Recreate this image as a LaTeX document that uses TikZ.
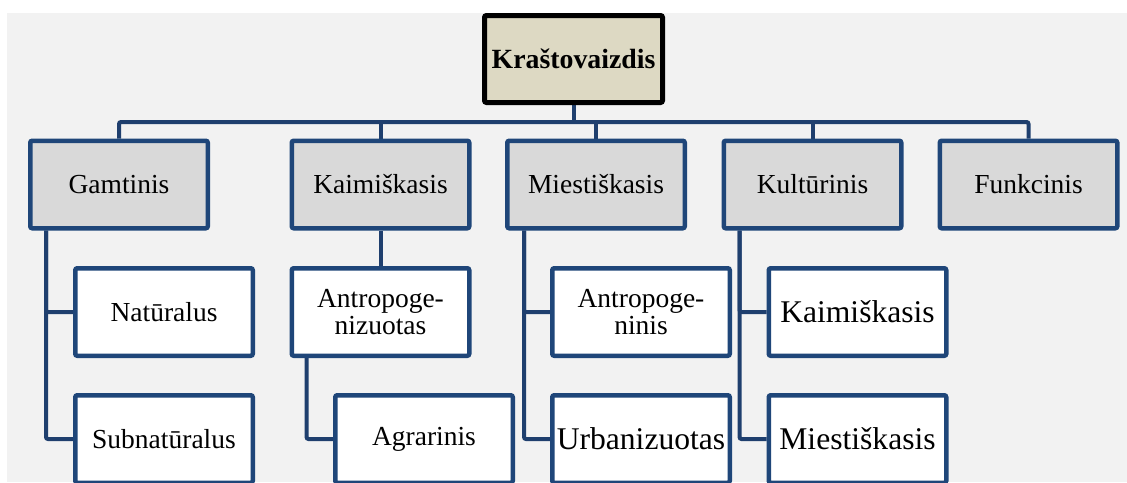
\documentclass[tikz,border=0pt]{standalone}
\usepackage{fontspec}
\setmainfont{Liberation Serif}
\usetikzlibrary{backgrounds}
\definecolor{bggray}{HTML}{F2F2F2}
\definecolor{lineblue}{HTML}{1F3F6E}
\definecolor{boxblue}{HTML}{1F4679}
\definecolor{topfill}{HTML}{DDD9C3}
\definecolor{lvlfill}{HTML}{D9D9D9}
\tikzset{
  topbox/.style={draw=black, fill=topfill, line width=2.5pt, rounded corners=1pt,
    minimum width=89pt, minimum height=43.5pt, inner sep=0pt,
    font=\fontsize{13.9}{15}\selectfont\bfseries},
  lvlbox/.style={draw=boxblue, fill=lvlfill, line width=2.25pt, rounded corners=1pt,
    minimum width=88.75pt, minimum height=43.75pt, inner sep=0pt, align=center,
    font=\fontsize{13.75}{13.3}\selectfont},
  leafbox/.style={lvlbox, fill=white},
  bigleaf/.style={leafbox, font=\fontsize{15.8}{16}\selectfont},
  conn/.style={draw=lineblue, line width=2pt, rounded corners=1pt}
}
\begin{document}
\begin{tikzpicture}[x=0.5pt,y=-0.5pt]
\useasboundingbox (0,0) rectangle (1127,482);
\clip (0,0) rectangle (1127,482);
\begin{pgfonlayer}{background}
\fill[white] (0,0) rectangle (1127,482);
\fill[bggray] (7,13) rectangle (1127,482);
\end{pgfonlayer}

\node[topbox] (top) at (573.5,59) {Kraštovaizdis};

\node[lvlbox] (gam) at (119,184.5) {Gamtinis};
\node[lvlbox] (kai) at (380.5,184.5) {Kaimiškasis};
\node[lvlbox] (mie) at (596,184.5) {Miestiškasis};
\node[lvlbox] (kul) at (812.5,184.5) {Kultūrinis};
\node[lvlbox] (fun) at (1028.5,184.5) {Funkcinis};

\node[leafbox] (nat) at (164,312) {Natūralus};
\node[leafbox] (sub) at (164,439) {Subnatūralus};
\node[leafbox] (ant) at (380.5,312) {Antropoge-\\nizuotas};
\node[leafbox] (agr) at (424,439) {Agrarinis};
\node[leafbox] (anp) at (641,312) {Antropoge-\\ninis};
\node[bigleaf] (urb) at (641,439) {Urbanizuotas};
\node[bigleaf] (kai2) at (857.5,312) {Kaimiškasis};
\node[bigleaf] (mie2) at (857.5,439) {Miestiškasis};

\coordinate (bus) at (0,122);

\begin{pgfonlayer}{background}
\draw[conn] (gam.north) |- (fun.north |- bus) -- (fun.north);
\draw[conn] (top.south) -- (top.south |- bus);
\draw[conn] (kai.north) -- (kai.north |- bus);
\draw[conn] (mie.north) -- (mie.north |- bus);
\draw[conn] (kul.north) -- (kul.north |- bus);

\draw[conn] ([xshift=9pt]gam.south west) |- (sub.west);
\draw[conn] ([xshift=9pt]gam.south west) |- (nat.west);
\draw[conn] (kai.south) -- (ant.north);
\draw[conn] ([xshift=8.5pt]ant.south west) |- (agr.west);
\draw[conn] ([xshift=9.5pt]mie.south west) |- (urb.west);
\draw[conn] ([xshift=9.5pt]mie.south west) |- (anp.west);
\draw[conn] ([xshift=9pt]kul.south west) |- (mie2.west);
\draw[conn] ([xshift=9pt]kul.south west) |- (kai2.west);
\end{pgfonlayer}
\end{tikzpicture}
\end{document}
